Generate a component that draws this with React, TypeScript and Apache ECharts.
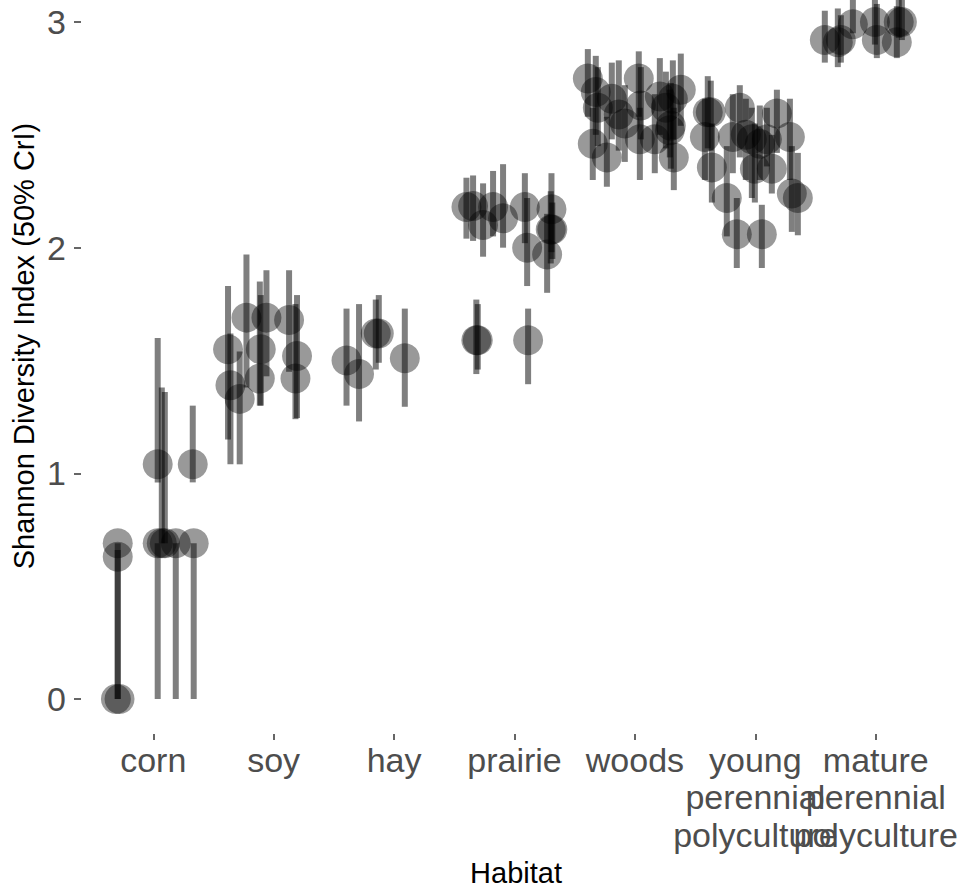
import React, { useEffect, useRef } from "react";
import * as echarts from "echarts";

const habitats = [
  "corn",
  "soy",
  "hay",
  "prairie",
  "woods",
  "young\nperennial\npolyculture",
  "mature\nperennial\npolyculture",
];
// young's label overlaps its neighbours (as in the reference), so it sits on a second axis
const xTickValuesA = [1, 2, 3, 4, 5, 7];
const xTickValuesB = [6];
const yTickValues = [0, 1, 2, 3];

// rows: [jitter offset from habitat centre, mean, lower 50% CrI, upper 50% CrI]
const corn = [
  [-0.295, 0.69, 0, 0.69],
  [-0.295, 0.63, 0, 0.66],
  [-0.31, 0, 0, 0],
  [-0.28, 0, 0, 0],
  [0.037, 1.04, 0.96, 1.6],
  [0.328, 1.04, 0.96, 1.3],
  [0.071, 0.69, 0.69, 1.38],
  [0.096, 0.69, 0.69, 1.36],
  [0.037, 0.69, 0, 0.69],
  [0.187, 0.69, 0, 0.69],
  [0.336, 0.69, 0, 0.69],
];
const soy = [
  [-0.226, 1.69, 1.38, 1.97],
  [-0.06, 1.69, 1.43, 1.9],
  [0.128, 1.68, 1.45, 1.9],
  [-0.379, 1.55, 1.15, 1.83],
  [-0.107, 1.55, 1.3, 1.79],
  [0.194, 1.52, 1.245, 1.79],
  [-0.359, 1.39, 1.04, 1.62],
  [-0.282, 1.33, 1.04, 1.54],
  [-0.115, 1.42, 1.3, 1.85],
  [0.181, 1.42, 1.24, 1.75],
];
const hay = [
  [-0.395, 1.5, 1.3, 1.73],
  [-0.291, 1.44, 1.23, 1.75],
  [-0.152, 1.62, 1.46, 1.77],
  [-0.127, 1.62, 1.49, 1.79],
  [0.089, 1.51, 1.295, 1.73],
];
const prairie = [
  [-0.399, 2.18, 2.04, 2.31],
  [-0.344, 2.185, 2.03, 2.32],
  [-0.261, 2.1, 1.96, 2.285],
  [-0.178, 2.18, 2.05, 2.34],
  [-0.095, 2.13, 2.0, 2.37],
  [0.086, 2.18, 2.02, 2.33],
  [0.307, 2.17, 1.98, 2.33],
  [0.301, 2.08, 1.93, 2.25],
  [0.314, 2.08, 1.95, 2.2],
  [0.105, 2.0, 1.83, 2.22],
  [0.271, 1.97, 1.8, 2.15],
  [-0.317, 1.59, 1.44, 1.77],
  [-0.305, 1.59, 1.46, 1.75],
  [0.113, 1.59, 1.395, 1.73],
];
const woods = [
  [-0.391, 2.75, 2.58, 2.88],
  [-0.35, 2.46, 2.3, 2.62],
  [-0.325, 2.69, 2.5, 2.85],
  [-0.308, 2.62, 2.45, 2.8],
  [-0.233, 2.4, 2.27, 2.58],
  [-0.192, 2.66, 2.48, 2.82],
  [-0.134, 2.59, 2.43, 2.83],
  [-0.084, 2.55, 2.38, 2.72],
  [0.032, 2.75, 2.58, 2.87],
  [0.041, 2.48, 2.3, 2.62],
  [0.049, 2.63, 2.48, 2.8],
  [0.165, 2.48, 2.33, 2.68],
  [0.207, 2.67, 2.5, 2.84],
  [0.257, 2.62, 2.44, 2.78],
  [0.298, 2.54, 2.35, 2.73],
  [0.315, 2.66, 2.48, 2.83],
  [0.323, 2.4, 2.255, 2.62],
  [0.381, 2.7, 2.54, 2.86],
  [0.29, 2.52, 2.4, 2.7],
];
const young = [
  [-0.395, 2.6, 2.44, 2.76],
  [-0.37, 2.6, 2.43, 2.74],
  [-0.419, 2.49, 2.3, 2.66],
  [-0.361, 2.355, 2.2, 2.55],
  [-0.129, 2.62, 2.4, 2.72],
  [-0.187, 2.49, 2.33, 2.68],
  [-0.079, 2.5, 2.3, 2.66],
  [-0.029, 2.48, 2.22, 2.62],
  [0.037, 2.46, 2.3, 2.63],
  [0.179, 2.595, 2.42, 2.7],
  [0.287, 2.49, 2.3, 2.66],
  [-0.004, 2.35, 2.2, 2.55],
  [0.137, 2.35, 2.24, 2.5],
  [-0.237, 2.22, 2.05, 2.45],
  [-0.154, 2.06, 1.91, 2.22],
  [0.054, 2.06, 1.91, 2.19],
  [0.303, 2.24, 2.07, 2.45],
  [0.353, 2.22, 2.055, 2.42],
  [0.096, 2.48, 2.36, 2.62],
];
const mature = [
  [-0.423, 2.92, 2.82, 3.05],
  [-0.315, 2.91, 2.8, 3.06],
  [-0.29, 2.92, 2.82, 3.03],
  [-0.19, 2.99, 2.95, 3.12],
  [-0.007, 3.0, 2.9, 3.12],
  [0.009, 2.92, 2.84, 3.08],
  [0.175, 2.91, 2.84, 3.07],
  [0.191, 3.0, 2.93, 3.12],
  [0.217, 3.0, 2.92, 3.12],
];
const groups = [corn, soy, hay, prairie, woods, young, mature];

const FONT = "'Liberation Sans', Arial, Helvetica, sans-serif";

function makeXAxis(values: number[]) {
  return {
    type: "value",
    gridIndex: 0,
    position: "bottom",
    offset: 0,
    min: 0.4,
    max: 7.6,
    axisLine: { show: false, onZero: false },
    splitLine: { show: false },
    axisTick: {
      show: true,
      customValues: values,
      length: 6,
      lineStyle: { color: "#333333", width: 1.5 },
    },
    axisLabel: {
      customValues: values,
      formatter: (v: number) => habitats[Math.round(v) - 1] ?? "",
      fontSize: 34,
      lineHeight: 37.5,
      color: "#4D4D4D",
      fontFamily: FONT,
      margin: 7,
      hideOverlap: false,
      showMinLabel: true,
      showMaxLabel: true,
    },
  };
}

export default function App() {
  const ref = useRef<HTMLDivElement>(null);
  useEffect(() => {
    if (!ref.current) return;
    const chart = echarts.init(ref.current, undefined, { renderer: "svg" });
    const ranges: number[][] = [];
    const points: number[][] = [];
    groups.forEach((rows, gi) => {
      rows.forEach((r) => {
        const x = gi + 1 + r[0];
        ranges.push([x, r[2], r[3]]);
        points.push([x, r[1]]);
      });
    });
    const option: any = {
      animation: false,
      grid: { left: 81, top: 0, width: 867, height: 734, containLabel: false },
      xAxis: [makeXAxis(xTickValuesA), makeXAxis(xTickValuesB)],
      yAxis: {
        type: "value",
        min: -0.155,
        max: 3.0975,
        axisLine: { show: false, onZero: false },
        splitLine: { show: false },
        axisTick: {
          show: true,
          customValues: yTickValues,
          length: 7,
          lineStyle: { color: "#333333", width: 1.5 },
        },
        axisLabel: {
          customValues: yTickValues,
          fontSize: 34,
          color: "#4D4D4D",
          fontFamily: FONT,
          margin: 15,
          showMinLabel: true,
          showMaxLabel: true,
        },
      },
      series: [
        {
          type: "custom",
          silent: true,
          xAxisIndex: 0,
          data: ranges,
          encode: { x: 0, y: [1, 2] },
          renderItem: (_params: any, api: any) => {
            const x = api.value(0);
            const p1 = api.coord([x, api.value(1)]);
            const p2 = api.coord([x, api.value(2)]);
            return {
              type: "line",
              shape: { x1: p1[0], y1: p1[1], x2: p2[0], y2: p2[1] },
              style: { stroke: "rgba(0,0,0,0.5)", lineWidth: 6, lineCap: "butt" },
            };
          },
        },
        {
          type: "scatter",
          silent: true,
          xAxisIndex: 0,
          data: points,
          symbol: "circle",
          symbolSize: 30,
          itemStyle: { color: "rgba(0,0,0,0.5)", borderWidth: 0 },
          emphasis: { disabled: true },
        },
      ],
      graphic: [
        {
          type: "text",
          x: 24,
          y: 346,
          rotation: Math.PI / 2,
          style: {
            text: "Shannon Diversity Index (50% CrI)",
            fontSize: 29,
            fontFamily: FONT,
            fill: "#000000",
            align: "center",
            verticalAlign: "middle",
            textAlign: "center",
            textVerticalAlign: "middle",
          },
        },
        {
          type: "text",
          x: 516,
          y: 873,
          style: {
            text: "Habitat",
            fontSize: 29,
            fontFamily: FONT,
            fill: "#000000",
            align: "center",
            verticalAlign: "middle",
            textAlign: "center",
            textVerticalAlign: "middle",
          },
        },
      ],
    };
    chart.setOption(option);
    return () => chart.dispose();
  }, []);
  return (
    <div
      ref={ref}
      style={{ position: "absolute", left: 0, top: 0, width: 961, height: 892, background: "#ffffff" }}
    />
  );
}
